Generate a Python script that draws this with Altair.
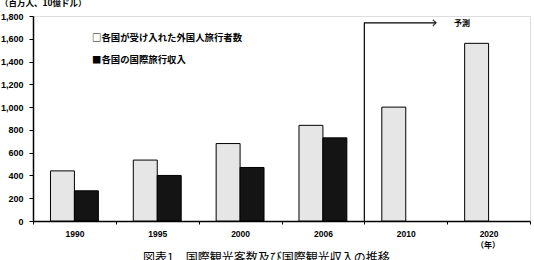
import altair as alt
import pandas as pd

years = ["1990", "1995", "2000", "2006", "2010", "2020"]
visitors = [440, 535, 680, 840, 1000, 1560]
receipts = [265, 400, 470, 730, None, None]
series = ["各国が受け入れた外国人旅行者数", "各国の国際旅行収入"]
y_ticks = [0, 200, 400, 600, 800, 1000, 1200, 1400, 1600, 1800]

rows = []
for i, yr in enumerate(years):
    rows.append({"year": yr, "series": series[0], "value": visitors[i]})
    if receipts[i] is not None:
        rows.append({"year": yr, "series": series[1], "value": receipts[i]})
df = pd.DataFrame(rows)

W, H = 497, 205
FONT = "Liberation Sans"
CJK = "Noto Sans CJK JP"

xscale = alt.Scale(domain=years, paddingInner=0, paddingOuter=0)
yscale = alt.Scale(domain=[0, 1800], nice=False)

xaxis = alt.Axis(title=None, labelAngle=0, tickBand="extent",
                 labelFont=FONT, labelFontSize=8.5, labelFontWeight="bold",
                 labelColor="black", domainColor="black", domainWidth=1.5,
                 tickColor="black", tickSize=3, labelPadding=5,
                 labelOverlap=False)
yaxis = alt.Axis(title=None, values=y_ticks, format=",d", grid=False,
                 labelFont=FONT, labelFontSize=9, labelFontWeight="bold",
                 labelColor="black", domainColor="black", domainWidth=1.5,
                 tickColor="black", tickSize=4, labelPadding=6,
                 labelOverlap=False, labelFlush=False)

bars = alt.Chart(df).mark_bar(stroke="black", strokeWidth=1).encode(
    x=alt.X("year:N", scale=xscale, sort=years, axis=xaxis),
    xOffset=alt.XOffset("series:N", sort=series,
                        scale=alt.Scale(domain=series, paddingInner=0, paddingOuter=0.73)),
    y=alt.Y("value:Q", scale=yscale, axis=yaxis),
    color=alt.Color("series:N", sort=series,
                    scale=alt.Scale(domain=series, range=["#e6e6e6", "#141414"]),
                    legend=None),
)

vline = alt.Chart(pd.DataFrame({"year": ["2010"], "y0": [0], "y1": [1740]})).mark_rule(
    color="black", strokeWidth=1.2).encode(
    x=alt.X("year:N", scale=xscale, sort=years, bandPosition=0, axis=xaxis),
    y=alt.Y("y0:Q", scale=yscale, axis=yaxis),
    y2="y1:Q",
)

hline = alt.Chart(pd.DataFrame({"y1": [1740]})).mark_rule(
    color="black", strokeWidth=1.2).encode(
    x=alt.value(331), x2=alt.value(403),
    y=alt.Y("y1:Q", scale=yscale, axis=yaxis),
)

head = alt.Chart(pd.DataFrame({"y1": [1740]})).mark_point(
    shape="M -1 -1 L 0 0 L -1 1", size=40, filled=False, stroke="black",
    strokeWidth=1.3).encode(
    x=alt.value(403),
    y=alt.Y("y1:Q", scale=yscale, axis=yaxis),
)

notes = pd.DataFrame({
    "text": ["□" + series[0], "■" + series[1]],
    "px": [59, 59],
    "py": [22, 44],
})
legend = alt.Chart(notes).mark_text(
    font=CJK, fontSize=9.4, fontWeight="bold", align="left", baseline="middle",
    color="black").encode(
    text="text:N", x=alt.X("px:Q", scale=None), y=alt.Y("py:Q", scale=None))

yosoku = alt.Chart(pd.DataFrame({"t": ["予測"]})).mark_text(
    font=CJK, fontSize=8, fontWeight="bold", align="left", baseline="middle",
    color="black").encode(text="t:N", x=alt.value(421), y=alt.value(8))

unit = alt.Chart(pd.DataFrame({"t": ["（百万人、10億ドル）"]})).mark_text(
    font=CJK, fontSize=8.5, fontWeight="bold", align="left", baseline="alphabetic",
    color="black").encode(text="t:N", x=alt.value(-33), y=alt.value(-10))

nen = alt.Chart(pd.DataFrame({"t": ["（年）"]})).mark_text(
    font=CJK, fontSize=8, fontWeight="bold", align="center", baseline="middle",
    color="black").encode(text="t:N", x=alt.value(455), y=alt.value(230))

caption = alt.Chart(pd.DataFrame({"t": ["図表1　国際観光客数及び国際観光収入の推移"]})).mark_text(
    font=CJK, fontSize=12, align="left", baseline="top",
    color="black").encode(text="t:N", x=alt.value(110), y=alt.value(237))

chart = alt.layer(bars, vline, hline, head, legend, yosoku, unit, nen, caption).properties(
    width=W, height=H,
    autosize=alt.AutoSizeParams(type="none"),
    padding={"left": 33, "top": 16, "right": 4, "bottom": 39},
).configure_view(stroke=None).configure(background="white")

chart.save("out.html", embed_options={"renderer": "svg", "actions": False})
